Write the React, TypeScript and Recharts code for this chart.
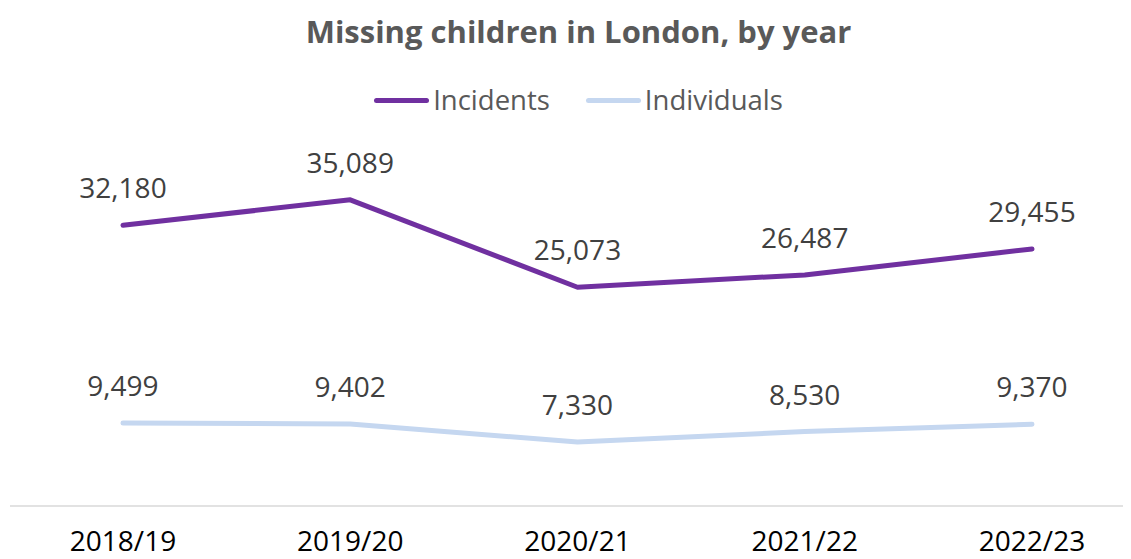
import React from 'react';
import { LineChart, Line, XAxis, YAxis, Legend } from 'recharts';

const categories = ['2018/19', '2019/20', '2020/21', '2021/22', '2022/23'];
const incidents = [32180, 35089, 25073, 26487, 29455];
const individuals = [9499, 9402, 7330, 8530, 9370];

const seriesNames = ['Incidents', 'Individuals'];
const seriesColors = ['#7030A0', '#C5D7F0'];

const data = categories.map((year, i) => ({
  year,
  incidents: incidents[i],
  individuals: individuals[i],
}));

const FONT = '"Open Sans", sans-serif';

const ValueLabel = (props: any) => {
  const { x, y, value } = props;
  return (
    <text x={x} y={y - 27} textAnchor="middle" fill="#404040" fontSize={28} fontFamily={FONT}>
      {Number(value).toLocaleString('en-US')}
    </text>
  );
};

const YearTick = (props: any) => {
  const { x, y, payload } = props;
  return (
    <text x={x} y={y + 45} textAnchor="middle" fill="#000000" fontSize={28} fontFamily={FONT}>
      {payload.value}
    </text>
  );
};

const LegendContent = () => (
  <div
    style={{
      display: 'flex',
      justifyContent: 'center',
      alignItems: 'center',
      height: 30,
      paddingLeft: 26,
      fontFamily: FONT,
      fontSize: 27.5,
      color: '#595959',
    }}
  >
    {seriesNames.map((name, i) => (
      <div key={name} style={{ display: 'flex', alignItems: 'center', marginRight: i === 0 ? 36 : 0 }}>
        <div
          style={{
            width: 55,
            height: 5,
            borderRadius: 3,
            background: seriesColors[i],
            marginRight: 4,
          }}
        />
        <span style={{ lineHeight: '30px' }}>{name}</span>
      </div>
    ))}
  </div>
);

export default function App() {
  return (
    <div
      style={{
        position: 'relative',
        width: 1131,
        height: 559,
        margin: '-8px 0 0 -8px',
        background: '#ffffff',
        overflow: 'hidden',
      }}
    >
      <div
        style={{
          position: 'absolute',
          top: 11,
          left: 13,
          width: 1131,
          textAlign: 'center',
          fontFamily: FONT,
          fontWeight: 700,
          fontSize: 31,
          lineHeight: '40px',
          color: '#595959',
        }}
      >
        Missing children in London, by year
      </div>
      <LineChart
        width={1131}
        height={559}
        data={data}
        margin={{ top: 127, right: 0, left: 10, bottom: 0 }}
      >
        <Legend
          verticalAlign="top"
          content={<LegendContent />}
          wrapperStyle={{ top: 85, left: 0, width: 1131 }}
        />
        <XAxis
          dataKey="year"
          padding={{ left: 113, right: 99 }}
          axisLine={{ stroke: '#D9D9D9', strokeWidth: 1.5 }}
          tickLine={false}
          tickSize={0}
          tickMargin={0}
          interval={0}
          height={53}
          tick={<YearTick />}
        />
        <YAxis hide domain={[0, 40000]} />
        <Line
          dataKey="incidents"
          name={seriesNames[0]}
          stroke={seriesColors[0]}
          strokeWidth={5}
          strokeLinecap="round"
          strokeLinejoin="round"
          dot={false}
          activeDot={false}
          label={<ValueLabel />}
          isAnimationActive={false}
        />
        <Line
          dataKey="individuals"
          name={seriesNames[1]}
          stroke={seriesColors[1]}
          strokeWidth={5}
          strokeLinecap="round"
          strokeLinejoin="round"
          dot={false}
          activeDot={false}
          label={<ValueLabel />}
          isAnimationActive={false}
        />
      </LineChart>
    </div>
  );
}
